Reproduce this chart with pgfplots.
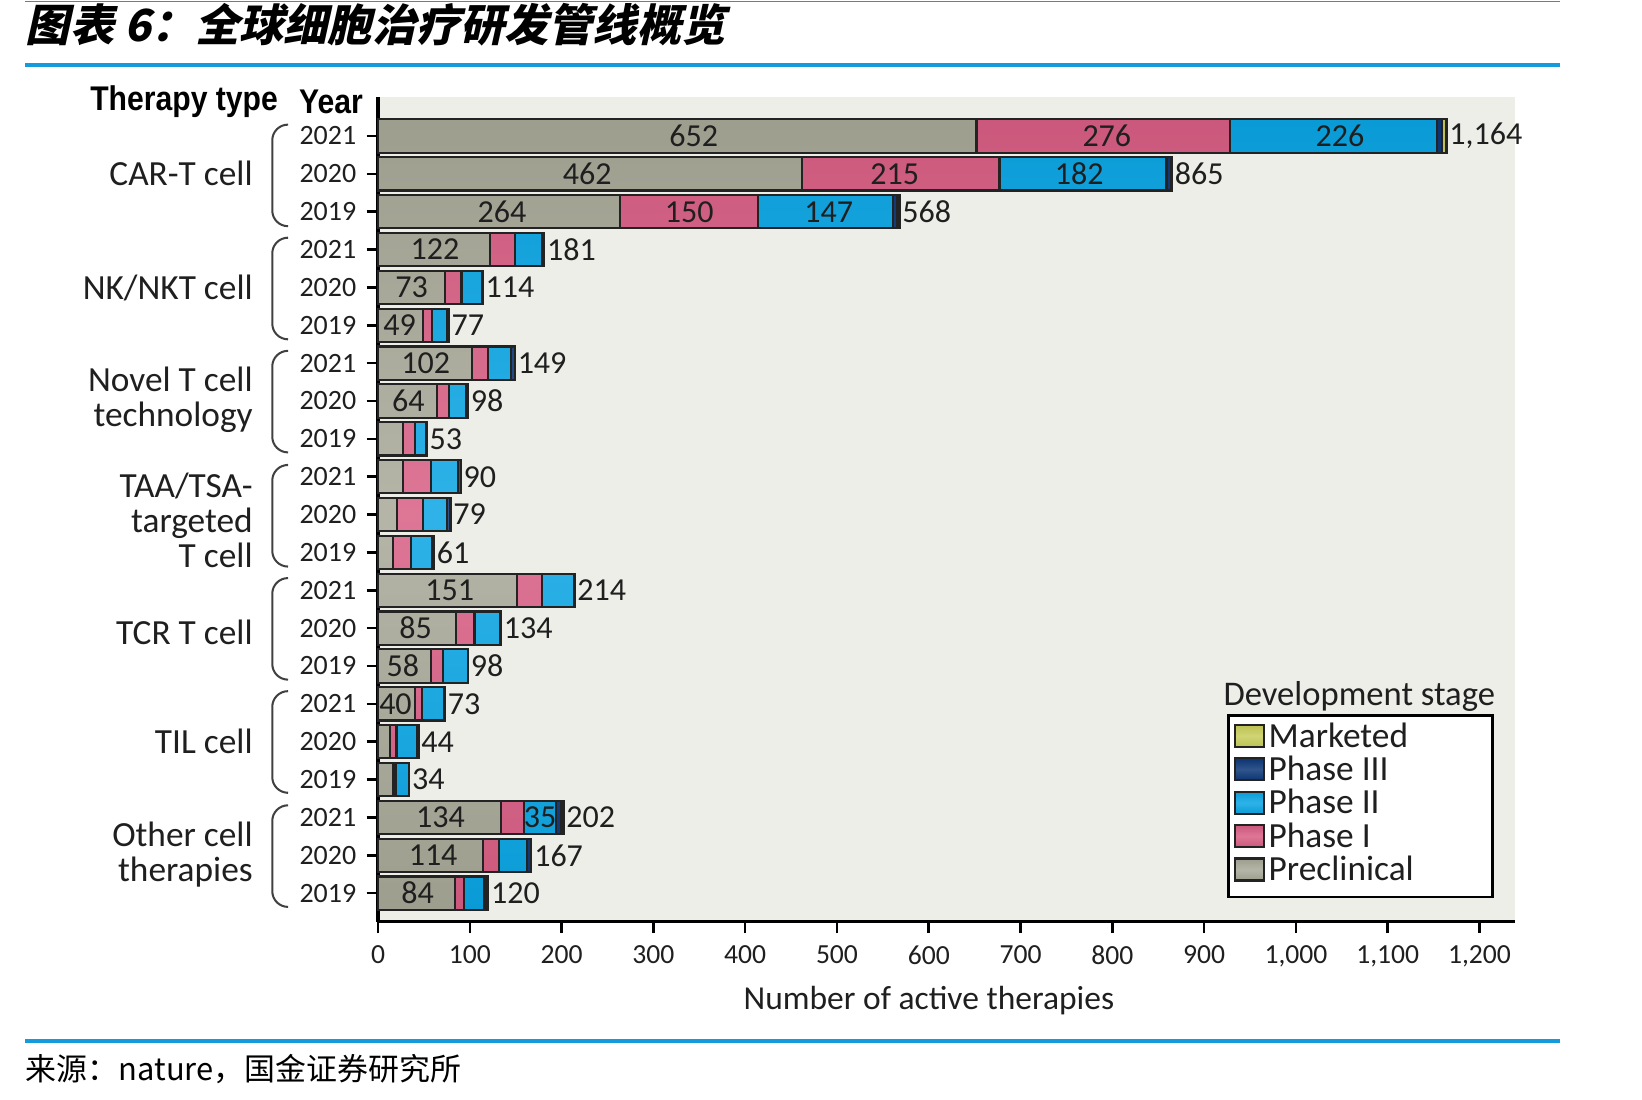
\documentclass[border=0pt]{standalone}
\usepackage{fontspec}
\usepackage{pgfplots}
\pgfplotsset{compat=1.18}
\usepackage{pgfplotstable}
\setmainfont{Carlito}
\newfontfamily\cjk{Noto Sans CJK SC}
\newfontfamily\cjktitle{Noto Sans CJK SC}[FakeSlant=0.22]
\newfontfamily\hdr{Liberation Sans}[FakeStretch=0.88]

\definecolor{cpre}{RGB}{168,168,152}
\definecolor{cp1}{RGB}{216,94,132}
\definecolor{cp2}{RGB}{10,165,228}
\definecolor{cp3}{RGB}{12,55,120}
\definecolor{cmk}{RGB}{200,205,90}
\definecolor{bgc}{RGB}{238,238,233}
\definecolor{bord}{RGB}{35,35,35}
\definecolor{hblue}{RGB}{20,155,220}

\pgfplotstableread{
y pre p1 p2 p3 mk total
0 84 10 22 3 1 120
1 114 18 30 5 0 167
2 134 25 35 5 3 202
3 16 3 15 0 0 34
4 13 7 23 1 0 44
5 40 8 24 1 0 73
6 58 13 27 0 0 98
7 85 20 28 1 0 134
8 151 28 35 0 0 214
9 16 20 23 1 1 61
10 21 28 26 4 0 79
11 27 31 29 3 0 90
12 27 13 12 1 0 53
13 64 13 19 2 0 98
14 102 18 25 4 0 149
15 49 10 16 2 0 77
16 73 18 22 1 0 114
17 122 27 30 2 0 181
18 264 150 147 5 2 568
19 462 215 182 5 1 865
20 652 276 226 5 5 1164
}\data

\tikzset{
  shd/.style={draw=bord, line width=0.6pt, top color=#1!94!black, bottom color=#1!94!black, middle color=#1!85!white},
  legsq/.style={legend image code/.code={\draw[##1,line width=0.6pt] (0mm,-1.2mm) rectangle (2.6mm,1.2mm);}},
  lbl/.style={font=\fontsize{8.7}{9}\selectfont, text=black!88, inner sep=0pt},
  tot/.style={font=\fontsize{8.7}{9}\selectfont, text=black!88, anchor=west, inner sep=0.6pt},
  grp/.style={anchor=east, align=right, inner sep=0pt, font=\fontsize{9.6}{9.6}\selectfont, text=black!88},
  br/.style={draw=black!75, line width=0.55pt, rounded corners=1.5mm}
}

\begin{document}
\begin{tikzpicture}
\useasboundingbox (0,0) rectangle (156.8mm,-105mm);

% header rules
\draw[hblue, line width=0.5pt] (2.4mm,-0.15mm) -- (149mm,-0.15mm);
\draw[hblue, line width=0.9pt] (2.4mm,-6.2mm) -- (149mm,-6.2mm);
\draw[hblue, line width=0.9pt] (2.4mm,-99.4mm) -- (149mm,-99.4mm);

\node[anchor=west, inner sep=0, font=\cjktitle\bfseries\fontsize{12}{13}\selectfont] at (2.4mm,-2.4mm) {图表 6：全球细胞治疗研发管线概览};
\node[anchor=west, inner sep=0, font=\cjk\fontsize{8.4}{9}\selectfont] at (2.4mm,-102.1mm) {来源：nature，国金证券研究所};

\begin{axis}[
  at={(36.1mm,-88.0mm)}, anchor=south west,
  scale only axis, width=108.6mm, height=78.7mm,
  xbar stacked, bar width=0.88,
  xmin=0, xmax=1239, ymin=-0.75, ymax=21.02,
  axis lines*=left,
  axis line style={black, line width=0.9pt},
  axis background/.style={fill=bgc},
  clip=false,
  xtick={0,100,...,1200},
  ytick={0,...,20},
  yticklabels={2019,2020,2021,2019,2020,2021,2019,2020,2021,2019,2020,2021,2019,2020,2021,2019,2020,2021,2019,2020,2021},
  tick align=outside,
  major tick length=1.1mm,
  tick style={black, line width=0.7pt},
  /pgf/number format/1000 sep={,},
  /pgf/number format/assume math mode=true,
  xticklabel style={font=\fontsize{7.5}{8}\selectfont, text=black!88},
  yticklabel style={font=\fontsize{7.6}{8}\selectfont, text=black!88, inner xsep=2.6pt},
  reverse legend,
  legend style={at={(0.9816,0.028)}, anchor=south east, draw=black, line width=0.8pt, fill=white,
    font=\fontsize{9.6}{9.6}\selectfont, inner xsep=0.5mm, inner ysep=0.7mm, row sep=0pt,
    nodes={inner xsep=0.9pt, inner ysep=0pt, text height=6.6pt, text depth=2.47pt, text=black!88}},
  legend cell align=left,
]
\addplot[shd=cpre, legsq] table[x=pre, y=y] {\data};
\addlegendentry{\makebox[20.6mm][l]{Preclinical}}
\addplot[shd=cp1, legsq] table[x=p1, y=y] {\data};
\addlegendentry{\makebox[20.6mm][l]{Phase I}}
\addplot[shd=cp2, legsq] table[x=p2, y=y] {\data};
\addlegendentry{\makebox[20.6mm][l]{Phase II}}
\addplot[shd=cp3, legsq] table[x=p3, y=y] {\data};
\addlegendentry{\makebox[20.6mm][l]{Phase III}}
\addplot[shd=cmk, legsq] table[x=mk, y=y] {\data};
\addlegendentry{\makebox[20.6mm][l]{Marketed}}

% anchor points for in-bar labels
\coordinate (q1) at (axis cs:344,20);
\coordinate (q2) at (axis cs:228,19);
\coordinate (q3) at (axis cs:135,18);
\coordinate (q4) at (axis cs:62,17);
\coordinate (q5) at (axis cs:36.5,16);
\coordinate (q6) at (axis cs:23.5,15);
\coordinate (q7) at (axis cs:52,14);
\coordinate (q8) at (axis cs:33,13);
\coordinate (q9) at (axis cs:78,8);
\coordinate (q10) at (axis cs:41,7);
\coordinate (q11) at (axis cs:27,6);
\coordinate (q12) at (axis cs:19,5);
\coordinate (q13) at (axis cs:68,2);
\coordinate (q14) at (axis cs:60,1);
\coordinate (q15) at (axis cs:43,0);
\coordinate (r1) at (axis cs:794,20);
\coordinate (r2) at (axis cs:563,19);
\coordinate (r3) at (axis cs:339,18);
\coordinate (s1) at (axis cs:1048,20);
\coordinate (s2) at (axis cs:764,19);
\coordinate (s3) at (axis cs:491,18);
\coordinate (s4) at (axis cs:176.5,2);

% totals
\node[tot] at (axis cs:1164,20) {1,164};
\node[tot] at (axis cs:865,19) {865};
\node[tot] at (axis cs:568,18) {568};
\node[tot] at (axis cs:181,17) {181};
\node[tot] at (axis cs:114,16) {114};
\node[tot] at (axis cs:77,15) {77};
\node[tot] at (axis cs:149,14) {149};
\node[tot] at (axis cs:98,13) {98};
\node[tot] at (axis cs:53,12) {53};
\node[tot] at (axis cs:90,11) {90};
\node[tot] at (axis cs:79,10) {79};
\node[tot] at (axis cs:61,9) {61};
\node[tot] at (axis cs:214,8) {214};
\node[tot] at (axis cs:134,7) {134};
\node[tot] at (axis cs:98,6) {98};
\node[tot] at (axis cs:73,5) {73};
\node[tot] at (axis cs:44,4) {44};
\node[tot] at (axis cs:34,3) {34};
\node[tot] at (axis cs:202,2) {202};
\node[tot] at (axis cs:167,1) {167};
\node[tot] at (axis cs:120,0) {120};
\end{axis}

% in-bar labels
\node[lbl] at (q1) {652};
\node[lbl] at (q2) {462};
\node[lbl] at (q3) {264};
\node[lbl] at (q4) {122};
\node[lbl] at (q5) {73};
\node[lbl] at (q6) {49};
\node[lbl] at (q7) {102};
\node[lbl] at (q8) {64};
\node[lbl] at (q9) {151};
\node[lbl] at (q10) {85};
\node[lbl] at (q11) {58};
\node[lbl] at (q12) {40};
\node[lbl] at (q13) {134};
\node[lbl] at (q14) {114};
\node[lbl] at (q15) {84};
\node[lbl] at (r1) {276};
\node[lbl] at (r2) {215};
\node[lbl] at (r3) {150};
\node[lbl] at (s1) {226};
\node[lbl] at (s2) {182};
\node[lbl] at (s3) {147};
\node[lbl] at (s4) {35};

% legend title and axis label
\node[font=\fontsize{9.4}{9.4}\selectfont, text=black!88] at (129.8mm,-66.5mm) {Development stage};
\node[font=\fontsize{9.1}{9.1}\selectfont, text=black!88] at (88.7mm,-95.5mm) {Number of active therapies};

% header
\node[anchor=east, inner sep=0, font=\hdr\bfseries\fontsize{9.3}{10}\selectfont] at (26.6mm,-9.75mm) {Therapy type};
\node[anchor=west, inner sep=0, font=\hdr\bfseries\fontsize{9.3}{10}\selectfont] at (28.5mm,-9.75mm) {Year};

% group labels
\node[grp] at (24.2mm,-16.6mm) {CAR-T cell};
\node[grp] at (24.2mm,-27.5mm) {NK/NKT cell};
\node[grp] at (24.2mm,-38.2mm) {Novel T cell\\technology};
\node[grp] at (24.2mm,-49.7mm) {TAA/TSA-\\targeted\\T cell};
\node[grp] at (24.2mm,-60.4mm) {TCR T cell};
\node[grp] at (24.2mm,-70.8mm) {TIL cell};
\node[grp] at (24.2mm,-81.6mm) {Other cell\\therapies};

% brackets
\draw[br] (27.4mm,-11.9mm) -- (26.0mm,-11.9mm) -- (26.0mm,-21.6mm) -- (27.4mm,-21.6mm);
\draw[br] (27.4mm,-22.7mm) -- (26.0mm,-22.7mm) -- (26.0mm,-32.4mm) -- (27.4mm,-32.4mm);
\draw[br] (27.4mm,-33.5mm) -- (26.0mm,-33.5mm) -- (26.0mm,-43.2mm) -- (27.4mm,-43.2mm);
\draw[br] (27.4mm,-44.4mm) -- (26.0mm,-44.4mm) -- (26.0mm,-54.1mm) -- (27.4mm,-54.1mm);
\draw[br] (27.4mm,-55.2mm) -- (26.0mm,-55.2mm) -- (26.0mm,-64.9mm) -- (27.4mm,-64.9mm);
\draw[br] (27.4mm,-66.0mm) -- (26.0mm,-66.0mm) -- (26.0mm,-75.7mm) -- (27.4mm,-75.7mm);
\draw[br] (27.4mm,-76.9mm) -- (26.0mm,-76.9mm) -- (26.0mm,-86.6mm) -- (27.4mm,-86.6mm);
\end{tikzpicture}
\end{document}
